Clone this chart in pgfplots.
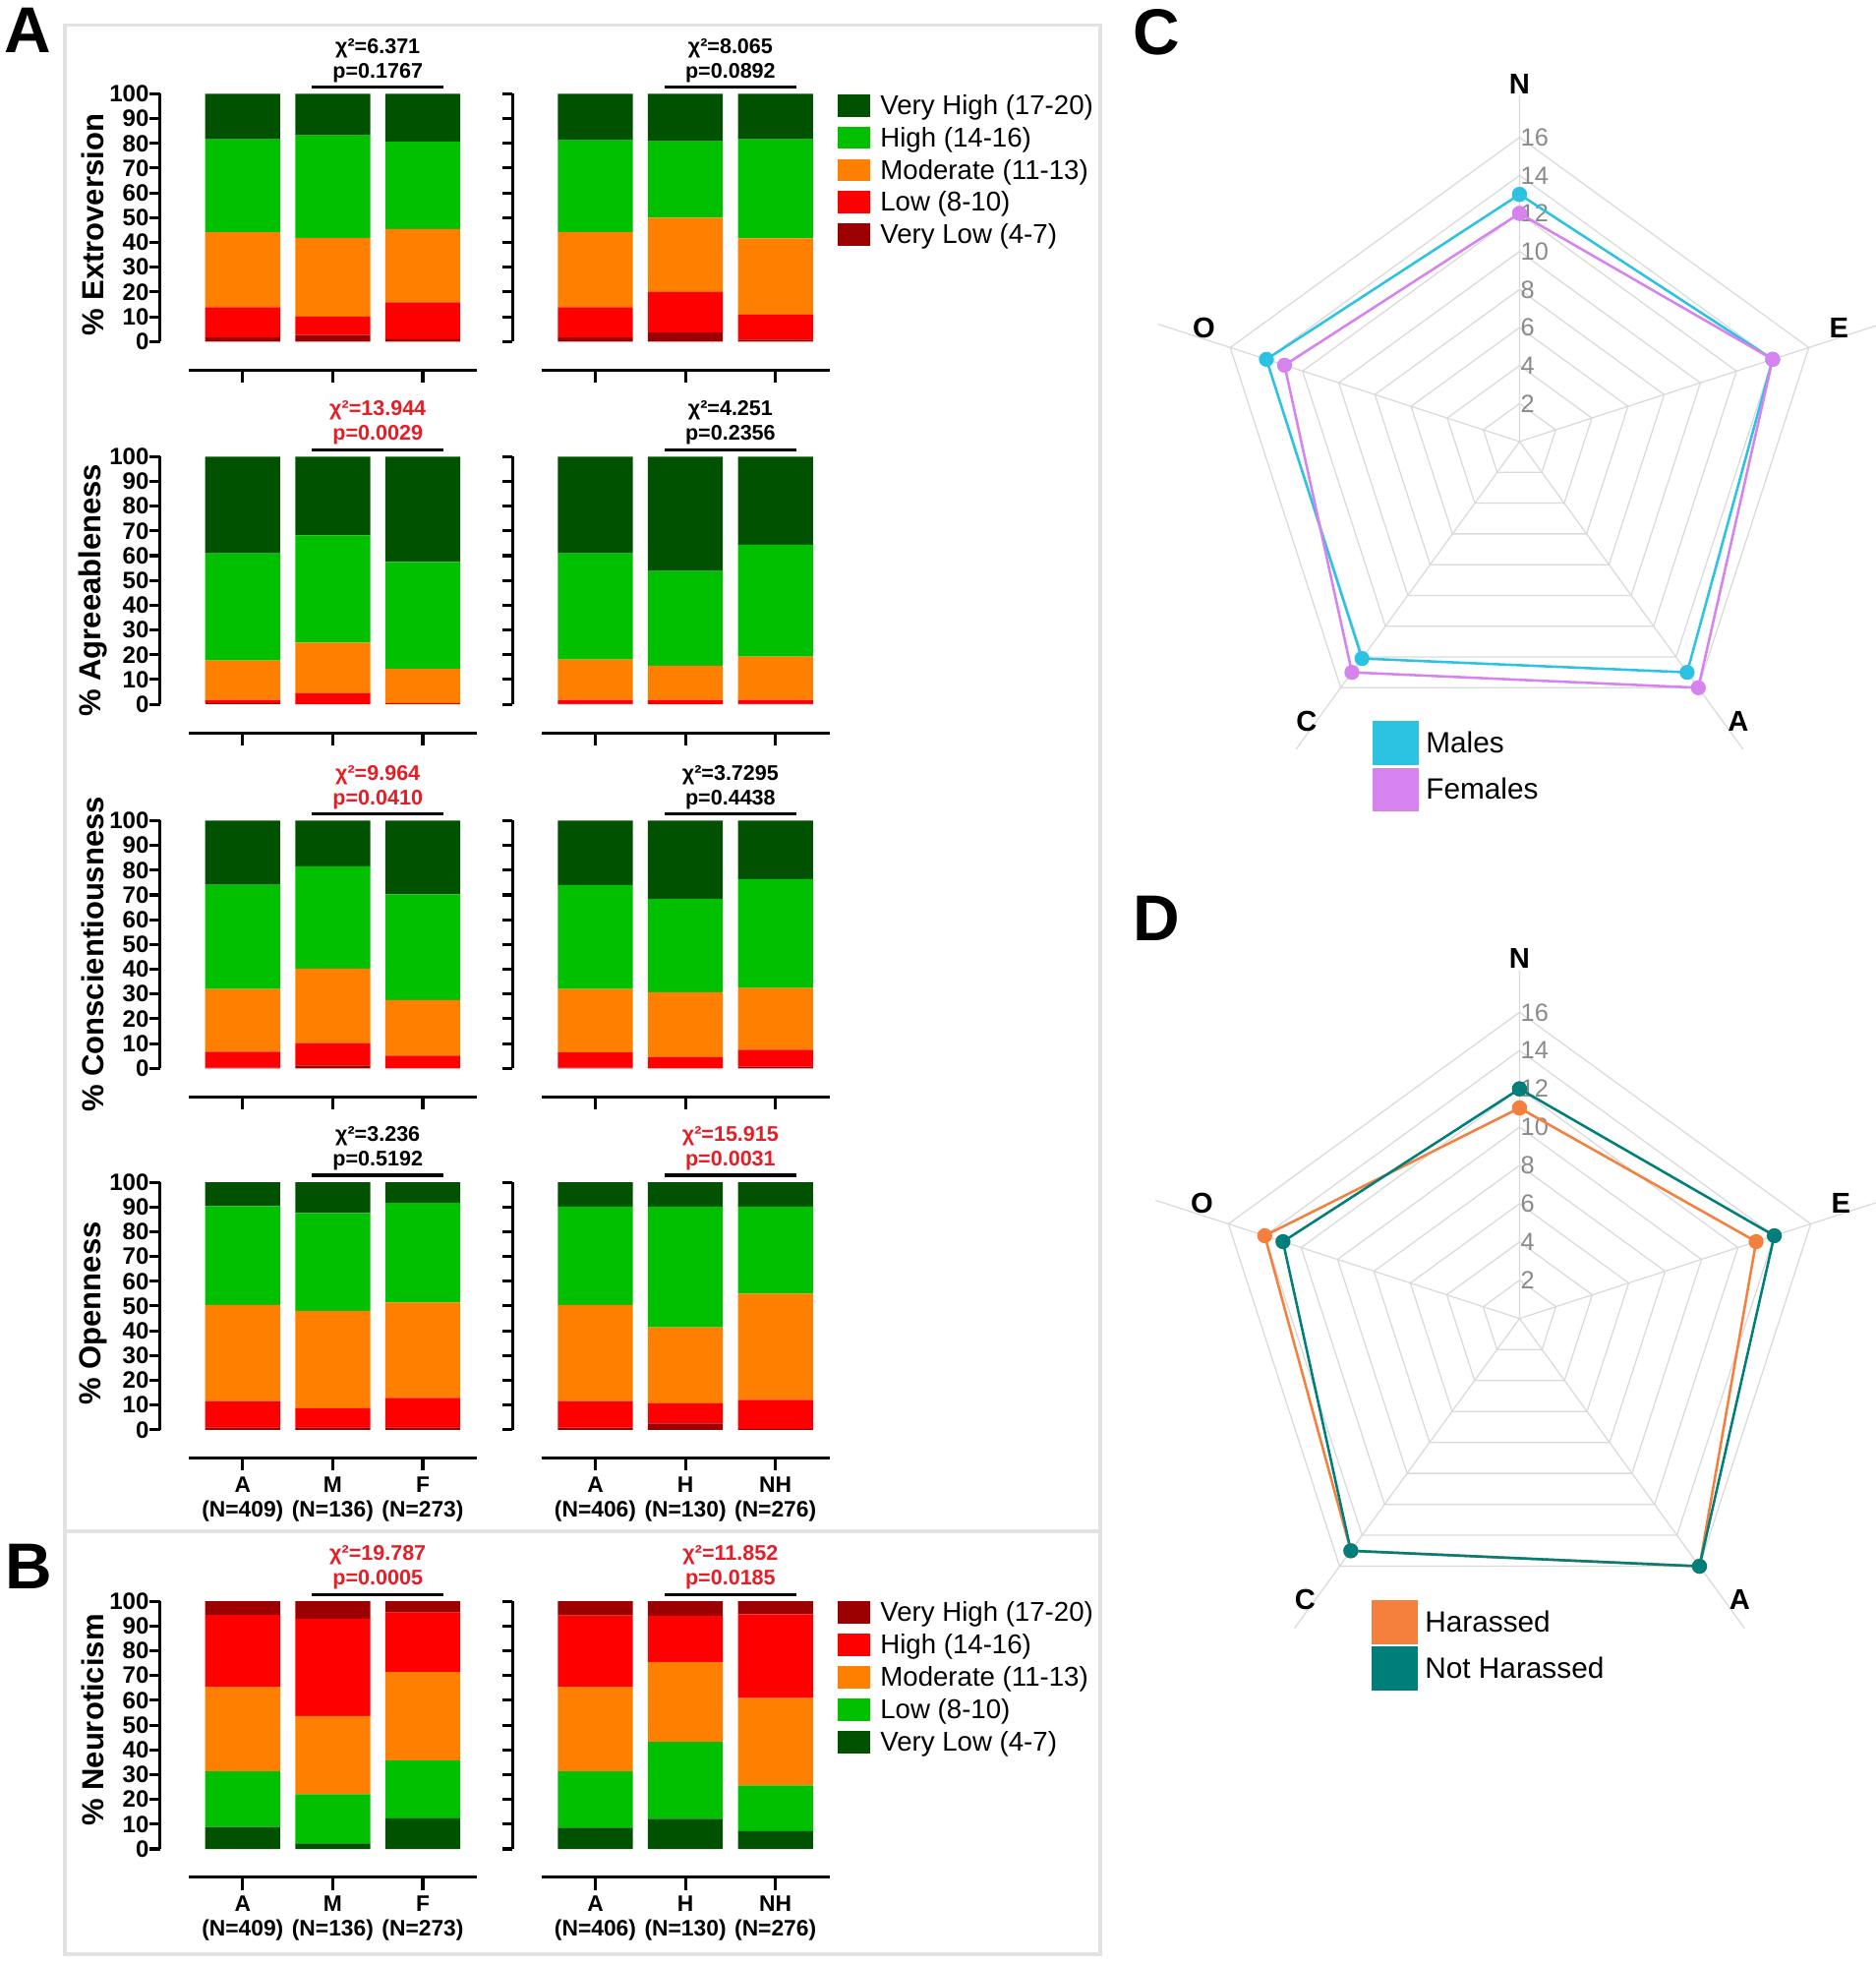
\documentclass[border=0pt]{standalone}
\usepackage{pgfplots}
\pgfplotsset{compat=1.18}
\usepackage{pgfplotstable}
\usepackage{fontspec}
\setmainfont{Liberation Sans}

\definecolor{cDG}{HTML}{005200}
\definecolor{cG}{HTML}{00C000}
\definecolor{cO}{HTML}{FF8000}
\definecolor{cR}{HTML}{FF0000}
\definecolor{cDR}{HTML}{9C0000}
\definecolor{sig}{HTML}{E41E26}
\definecolor{boxgray}{HTML}{E2E2E2}
\definecolor{males}{HTML}{2CC3E2}
\definecolor{females}{HTML}{D683F0}
\definecolor{harassed}{HTML}{F5803E}
\definecolor{notharassed}{HTML}{007E7A}
\definecolor{gridgray}{HTML}{DADADA}
\definecolor{labgray}{HTML}{8A8A8A}

\newcommand\ticfont{\bfseries\fontsize{19}{19}\selectfont}
\newcommand\axlabfont{\bfseries\fontsize{24.5}{24.5}\selectfont}
\newcommand\statfont{\bfseries\fontsize{17}{17}\selectfont}
\newcommand\catfont{\bfseries\fontsize{18}{18}\selectfont}
\newcommand\legfont{\fontsize{21.8}{21.8}\selectfont}
\newcommand\panelfont{\bfseries\fontsize{52}{52}\selectfont}
\newcommand\radlabfont{\bfseries\fontsize{23}{23}\selectfont}
\newcommand\ringfont{\fontsize{20}{20}\selectfont}
\newcommand\radlegfont{\fontsize{23.5}{23.5}\selectfont}

% segment heights (%), bottom to top: vl lo mo hi vh
\pgfplotstableread{
x vl lo mo hi vh
0 1.6 12.2 30.3 37.5 18.4
1 2.6 7.5 31.7 41.4 16.8
2 0.9 14.9 29.6 35.3 19.3
}\tEs
\pgfplotstableread{
x vl lo mo hi vh
0 1.6 12.2 30.4 37.0 18.8
1 3.6 16.4 30.0 30.9 19.1
2 0.7 10.2 30.7 40.0 18.4
}\tEh
\pgfplotstableread{
x vl lo mo hi vh
0 0.3 1.5 15.9 43.3 39.0
1 0.0 4.5 20.4 43.3 31.8
2 0.0 0.5 13.8 43.2 42.5
}\tAs
\pgfplotstableread{
x vl lo mo hi vh
0 0.3 1.5 16.3 42.9 39.0
1 0.0 1.8 13.8 38.2 46.2
2 0.3 1.5 17.5 45.1 35.6
}\tAh
\pgfplotstableread{
x vl lo mo hi vh
0 0.3 6.4 25.3 42.1 25.9
1 1.2 8.9 30.2 41.3 18.4
2 0.0 5.1 22.5 42.6 29.8
}\tCs
\pgfplotstableread{
x vl lo mo hi vh
0 0.3 6.1 25.6 42.0 26.0
1 0.0 4.6 26.1 37.8 31.5
2 0.7 6.8 24.9 44.0 23.6
}\tCh
\pgfplotstableread{
x vl lo mo hi vh
0 1.0 10.6 38.8 39.9 9.7
1 1.0 7.7 39.3 39.6 12.4
2 1.0 11.9 38.5 40.2 8.4
}\tOs
\pgfplotstableread{
x vl lo mo hi vh
0 0.9 10.7 38.8 39.7 9.9
1 2.6 8.1 30.7 48.7 9.9
2 0.4 11.7 42.9 35.1 9.9
}\tOh
\pgfplotstableread{
x vl lo mo hi vh
0 8.9 22.4 34.2 29.0 5.5
1 2.2 19.9 31.6 39.3 7.0
2 12.4 23.4 35.6 24.0 4.6
}\tNs
\pgfplotstableread{
x vl lo mo hi vh
0 8.6 22.7 34.2 28.8 5.7
1 12.2 31.0 32.2 18.7 5.9
2 7.2 18.5 35.2 33.8 5.3
}\tNh

\newcommand{\posplots}[1]{%
  \addplot[fill=cDR] table[x=x,y=vl]{#1};
  \addplot[fill=cR] table[x=x,y=lo]{#1};
  \addplot[fill=cO] table[x=x,y=mo]{#1};
  \addplot[fill=cG] table[x=x,y=hi]{#1};
  \addplot[fill=cDG] table[x=x,y=vh]{#1};}
\newcommand{\negplots}[1]{%
  \addplot[fill=cDG] table[x=x,y=vl]{#1};
  \addplot[fill=cG] table[x=x,y=lo]{#1};
  \addplot[fill=cO] table[x=x,y=mo]{#1};
  \addplot[fill=cR] table[x=x,y=hi]{#1};
  \addplot[fill=cDR] table[x=x,y=vh]{#1};}
\newcommand{\xbase}{\draw[line width=2.4bp] (axis cs:-0.6,-11.5) -- (axis cs:2.6,-11.5)
  (axis cs:0,-11.5) -- (axis cs:0,-16.5) (axis cs:1,-11.5) -- (axis cs:1,-16.5)
  (axis cs:2,-11.5) -- (axis cs:2,-16.5);}
\newcommand{\stat}[3]{\draw[line width=2.4bp] (axis cs:0.77,102.8) -- (axis cs:2.23,102.8);
  \node[text=#1,font=\statfont,inner sep=0pt] at (axis cs:1.5,118.5) {χ²=#2};
  \node[text=#1,font=\statfont,inner sep=0pt] at (axis cs:1.5,108.6) {p=#3};}
\newcommand{\ylab}[2]{\node[rotate=90,font=\axlabfont,inner sep=0pt] at (axis cs:-1.66,#2) {\% #1};}
\newcommand{\cats}[6]{%
  \node[font=\catfont,inner sep=0pt] at (axis cs:0,-22) {#1};
  \node[font=\catfont,inner sep=0pt] at (axis cs:1,-22) {#2};
  \node[font=\catfont,inner sep=0pt] at (axis cs:2,-22) {#3};
  \node[font=\catfont,inner sep=0pt] at (axis cs:0,-32.8) {#4};
  \node[font=\catfont,inner sep=0pt] at (axis cs:1,-32.8) {#5};
  \node[font=\catfont,inner sep=0pt] at (axis cs:2,-32.8) {#6};}

\pgfplotsset{
  barbase/.style={
    x=72bp, y=1.98bp, xmin=-0.92, xmax=2.6, ymin=0, ymax=100,
    anchor=south west, clip=false, enlargelimits=false,
    axis x line=none, axis y line*=left,
    ybar stacked, bar width=0.833,
    ytick={0,10,...,100}, tick align=outside, major tick length=8bp,
    axis line style={line width=2.4bp, black},
    tick style={line width=2.4bp, black},
    yticklabel style={font=\ticfont, inner sep=0.5bp},
    /pgf/number format/assume math mode=true,
    every axis plot/.append style={draw=none},
  },
  leftbar/.style={barbase},
  rightbar/.style={barbase, yticklabels={}},
  barleg/.style={
    legend style={at={(1.0256,1.0)}, anchor=north west, draw=none, fill=none,
      inner sep=0pt, row sep=7.9bp, font=\legfont, nodes={inner sep=0pt},
      /tikz/every odd column/.append style={column sep=8bp}},
    legend cell align=left, reverse legend,
    legend image code/.code={\fill[##1] (0bp,-9bp) rectangle (26bp,9bp);}},
  radar/.style={
    anchor=south west, x=15.2bp, y=15.2bp, xmin=-21, xmax=21, ymin=-21, ymax=21,
    hide axis, clip=false,
    legend style={at={(0.3152,0.15)}, anchor=north west, draw=none, fill=none,
      inner sep=0pt, row sep=2bp, font=\radlegfont, nodes={inner sep=0pt},
      /tikz/every odd column/.append style={column sep=6bp}},
    legend cell align=left,
    legend image code/.code={\fill[##1] (0bp,-16.5bp) rectangle (35bp,16.5bp);}},
}

\newcommand{\radgrid}{%
  \addplot[gridgray, line width=1bp, forget plot, data cs=polar, mark=none] coordinates {(90,2) (18,2) (-54,2) (-126,2) (162,2) (90,2)};
  \addplot[gridgray, line width=1bp, forget plot, data cs=polar, mark=none] coordinates {(90,4) (18,4) (-54,4) (-126,4) (162,4) (90,4)};
  \addplot[gridgray, line width=1bp, forget plot, data cs=polar, mark=none] coordinates {(90,6) (18,6) (-54,6) (-126,6) (162,6) (90,6)};
  \addplot[gridgray, line width=1bp, forget plot, data cs=polar, mark=none] coordinates {(90,8) (18,8) (-54,8) (-126,8) (162,8) (90,8)};
  \addplot[gridgray, line width=1bp, forget plot, data cs=polar, mark=none] coordinates {(90,10) (18,10) (-54,10) (-126,10) (162,10) (90,10)};
  \addplot[gridgray, line width=1bp, forget plot, data cs=polar, mark=none] coordinates {(90,12) (18,12) (-54,12) (-126,12) (162,12) (90,12)};
  \addplot[gridgray, line width=1bp, forget plot, data cs=polar, mark=none] coordinates {(90,14) (18,14) (-54,14) (-126,14) (162,14) (90,14)};
  \addplot[gridgray, line width=1bp, forget plot, data cs=polar, mark=none] coordinates {(90,16) (18,16) (-54,16) (-126,16) (162,16) (90,16)};
  \addplot[gridgray, line width=1bp, forget plot, data cs=polar, mark=none] coordinates {(90,18.2) (0,0) (18,20) (0,0) (-54,20) (0,0) (-126,20) (0,0) (162,20)};
  \node[anchor=west,text=labgray,font=\ringfont,inner sep=0pt] at (axis cs:0.05,2) {2};
  \node[anchor=west,text=labgray,font=\ringfont,inner sep=0pt] at (axis cs:0.05,4) {4};
  \node[anchor=west,text=labgray,font=\ringfont,inner sep=0pt] at (axis cs:0.05,6) {6};
  \node[anchor=west,text=labgray,font=\ringfont,inner sep=0pt] at (axis cs:0.05,8) {8};
  \node[anchor=west,text=labgray,font=\ringfont,inner sep=0pt] at (axis cs:0.05,10) {10};
  \node[anchor=west,text=labgray,font=\ringfont,inner sep=0pt] at (axis cs:0.05,12) {12};
  \node[anchor=west,text=labgray,font=\ringfont,inner sep=0pt] at (axis cs:0.05,14) {14};
  \node[anchor=west,text=labgray,font=\ringfont,inner sep=0pt] at (axis cs:0.05,16) {16};
  \node[font=\radlabfont,inner sep=0pt] at (axis cs:0,18.8) {N};
  \node[font=\radlabfont,inner sep=0pt] at (axis cs:16.8,6.0) {E};
  \node[font=\radlabfont,inner sep=0pt] at (axis cs:-16.6,6.0) {O};
  \node[font=\radlabfont,inner sep=0pt] at (axis cs:-11.2,-14.7) {C};
  \node[font=\radlabfont,inner sep=0pt] at (axis cs:11.5,-14.7) {A};}

\begin{document}
\begin{tikzpicture}
\path[use as bounding box] (0bp,0bp) rectangle (1500bp,-1570bp);
\draw[boxgray, line width=3bp] (52bp,-20bp) rectangle (880bp,-1562bp);
\draw[boxgray, line width=3bp] (52bp,-1224bp) -- (880bp,-1224bp);
\node[anchor=base west, font=\panelfont, inner sep=0pt] at (3bp,-42bp) {A};
\node[anchor=base west, font=\panelfont, inner sep=0pt] at (4bp,-1270bp) {B};
\node[anchor=base west, font=\panelfont, inner sep=0pt] at (906bp,-44bp) {C};
\node[anchor=base west, font=\panelfont, inner sep=0pt] at (906bp,-752bp) {D};

% ---- Row 1: Extroversion
\begin{axis}[leftbar, at={(127.8bp,-273bp)}]
\posplots{\tEs}
\xbase \stat{black}{6.371}{0.1767} \ylab{Extroversion}{47}
\end{axis}
\begin{axis}[rightbar, barleg, at={(409.8bp,-273bp)}]
\posplots{\tEh}
\legend{Very Low (4-7),Low (8-10),Moderate (11-13),High (14-16),Very High (17-20)}
\xbase \stat{black}{8.065}{0.0892}
\end{axis}

% ---- Row 2: Agreeableness
\begin{axis}[leftbar, at={(127.8bp,-563bp)}]
\posplots{\tAs}
\xbase \stat{sig}{13.944}{0.0029} \ylab{Agreeableness}{46}
\end{axis}
\begin{axis}[rightbar, at={(409.8bp,-563bp)}]
\posplots{\tAh}
\xbase \stat{black}{4.251}{0.2356}
\end{axis}

% ---- Row 3: Conscientiousness
\begin{axis}[leftbar, at={(127.8bp,-854bp)}]
\posplots{\tCs}
\xbase \stat{sig}{9.964}{0.0410} \ylab{Conscientiousness}{46}
\end{axis}
\begin{axis}[rightbar, at={(409.8bp,-854bp)}]
\posplots{\tCh}
\xbase \stat{black}{3.7295}{0.4438}
\end{axis}

% ---- Row 4: Openness
\begin{axis}[leftbar, at={(127.8bp,-1143bp)}]
\posplots{\tOs}
\xbase \stat{black}{3.236}{0.5192} \ylab{Openness}{47}
\cats{A}{M}{F}{(N=409)}{(N=136)}{(N=273)}
\end{axis}
\begin{axis}[rightbar, at={(409.8bp,-1143bp)}]
\posplots{\tOh}
\xbase \stat{sig}{15.915}{0.0031}
\cats{A}{H}{NH}{(N=406)}{(N=130)}{(N=276)}
\end{axis}

% ---- Row B: Neuroticism
\begin{axis}[leftbar, at={(127.8bp,-1478bp)}]
\negplots{\tNs}
\xbase \stat{sig}{19.787}{0.0005} \ylab{Neuroticism}{52}
\cats{A}{M}{F}{(N=409)}{(N=136)}{(N=273)}
\end{axis}
\begin{axis}[rightbar, barleg, at={(409.8bp,-1478bp)}]
\negplots{\tNh}
\legend{Very Low (4-7),Low (8-10),Moderate (11-13),High (14-16),Very High (17-20)}
\xbase \stat{sig}{11.852}{0.0185}
\cats{A}{H}{NH}{(N=406)}{(N=130)}{(N=276)}
\end{axis}

% ---- C radar
\begin{axis}[radar, at={(895.8bp,-672.2bp)}]
\radgrid
\addplot[males, line width=2bp, data cs=polar, mark=*, mark size=5bp, mark options={fill=males, draw=males}]
  coordinates {(90,13.0) (18,14.0) (-54,15.0) (-126,14.1) (162,14.0) (90,13.0)};
\addplot[females, line width=2bp, data cs=polar, mark=*, mark size=5bp, mark options={fill=females, draw=females}]
  coordinates {(90,12.0) (18,14.0) (-54,16.0) (-126,15.0) (162,13.0) (90,12.0)};
\legend{Males,Females}
\end{axis}

% ---- D radar
\begin{axis}[radar, x=15.3bp, y=15.3bp, at={(893.7bp,-1375.3bp)}]
\radgrid
\addplot[harassed, line width=2bp, data cs=polar, mark=*, mark size=5bp, mark options={fill=harassed, draw=harassed}]
  coordinates {(90,11.0) (18,13.0) (-54,16.0) (-126,15.0) (162,14.0) (90,11.0)};
\addplot[notharassed, line width=2bp, data cs=polar, mark=*, mark size=5bp, mark options={fill=notharassed, draw=notharassed}]
  coordinates {(90,12.0) (18,14.0) (-54,16.0) (-126,15.0) (162,13.0) (90,12.0)};
\legend{Harassed,Not Harassed}
\end{axis}
\end{tikzpicture}
\end{document}
